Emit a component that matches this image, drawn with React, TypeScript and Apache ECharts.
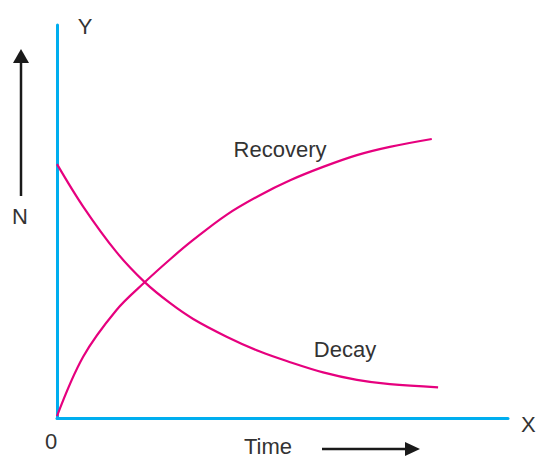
import React, { useEffect, useRef } from "react";
import * as echarts from "echarts";

// Time positions (arbitrary units, axis 0..100) and N values (axis 0..100)
const decayTime = [0, 5.8, 13.2, 19.5, 25.1, 30.2, 37.6, 45.0, 51.7, 59.0, 66.5, 73.8, 84.5];
const decayN = [64.6, 53.8, 42.2, 34.5, 29.2, 25.2, 20.7, 16.9, 14.2, 11.6, 9.7, 8.6, 7.8];
const recoveryTime = [0, 5.8, 13.2, 19.5, 25.1, 30.2, 37.6, 45.0, 51.7, 59.0, 66.5, 73.8, 83.1];
const recoveryN = [0.5, 15.6, 27.5, 34.6, 40.4, 45.3, 51.7, 56.7, 60.5, 63.9, 66.9, 69.0, 71.0];

const seriesNames = ["Recovery", "Decay"];
const axisNames = { x: "X", y: "Y", origin: "0", xTitle: "Time", yTitle: "N" };

const AXIS_COLOR = "#00AEEF";
const CURVE_COLOR = "#E6007E";
const TEXT_COLOR = "#333333";
const FONT = "'Liberation Sans', Arial, Helvetica, sans-serif";

export default function App() {
  const ref = useRef<HTMLDivElement>(null);
  useEffect(() => {
    if (!ref.current) return;
    const chart = echarts.init(ref.current, null, { renderer: "svg" });
    const txt = (text: string, x: number, y: number, align = "center") => ({
      type: "text",
      x,
      y,
      style: {
        text,
        fill: TEXT_COLOR,
        font: `22px ${FONT}`,
        textAlign: align,
        textVerticalAlign: "middle",
      },
    });
    const curve = (name: string, xs: number[], ys: number[]) => ({
      name,
      type: "line",
      smooth: 0.35,
      symbol: "none",
      lineStyle: { color: CURVE_COLOR, width: 2.2 },
      data: xs.map((t, i) => [t, ys[i]]),
      z: 3,
    });
    chart.setOption({
      animation: false,
      grid: { left: 57, right: 29, top: 25, bottom: 39 },
      xAxis: {
        type: "value",
        min: 0,
        max: 100,
        axisLine: { show: true, lineStyle: { color: AXIS_COLOR, width: 3 } },
        axisTick: { show: false },
        axisLabel: { show: false },
        splitLine: { show: false },
      },
      yAxis: {
        type: "value",
        min: 0,
        max: 100,
        axisLine: { show: true, lineStyle: { color: AXIS_COLOR, width: 3 } },
        axisTick: { show: false },
        axisLabel: { show: false },
        splitLine: { show: false },
      },
      series: [
        curve(seriesNames[0], recoveryTime, recoveryN),
        curve(seriesNames[1], decayTime, decayN),
      ],
      graphic: [
        txt(axisNames.y, 85, 26),
        txt(axisNames.x, 521, 424, "left"),
        txt(axisNames.origin, 51, 441),
        txt(axisNames.xTitle, 268, 446),
        txt(axisNames.yTitle, 20, 216),
        txt(seriesNames[0], 280, 149),
        txt(seriesNames[1], 345, 349),
        // up arrow
        {
          type: "line",
          shape: { x1: 21, y1: 196, x2: 21, y2: 60 },
          style: { stroke: "#1a1a1a", lineWidth: 2.5 },
        },
        {
          type: "polygon",
          shape: { points: [[21, 49], [13, 63], [29, 63]] },
          style: { fill: "#1a1a1a" },
        },
        // right arrow
        {
          type: "line",
          shape: { x1: 322, y1: 449, x2: 408, y2: 449 },
          style: { stroke: "#1a1a1a", lineWidth: 2.5 },
        },
        {
          type: "polygon",
          shape: { points: [[420, 449], [405, 442], [405, 456]] },
          style: { fill: "#1a1a1a" },
        },
      ],
    });
    return () => chart.dispose();
  }, []);
  return <div ref={ref} style={{ width: 537, height: 457, position: "absolute", left: 0, top: 0 }} />;
}
